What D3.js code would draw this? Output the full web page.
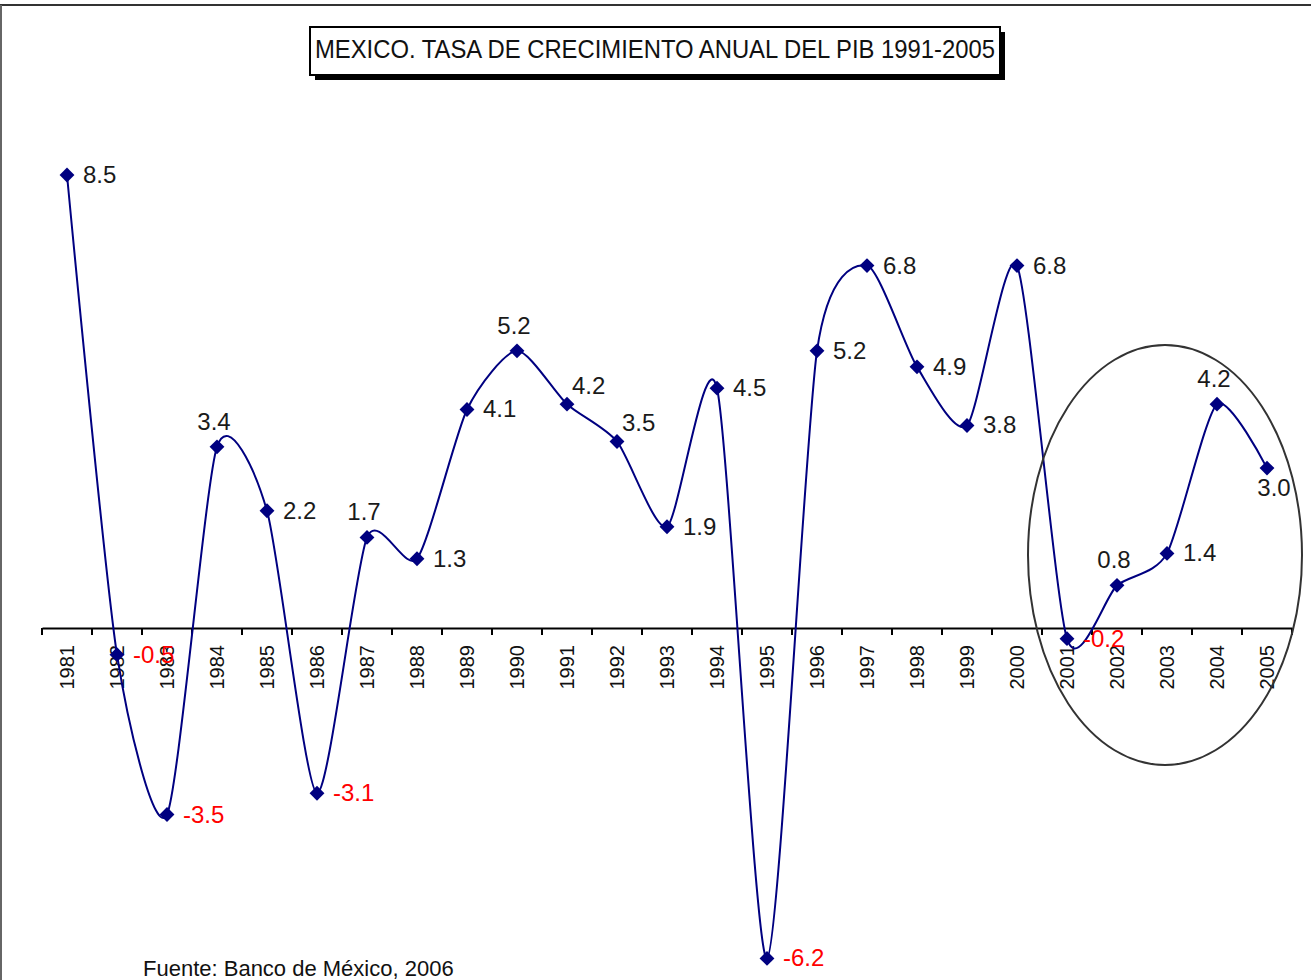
<!DOCTYPE html>
<html>
<head>
<meta charset="utf-8">
<script src="https://cdn.jsdelivr.net/npm/d3@7/dist/d3.min.js"></script>
<style>
  html, body { margin: 0; padding: 0; background: #fff; }
  svg { display: block; font-family: "Liberation Sans", Arial, sans-serif; }
</style>
</head>
<body>
<svg id="chart" width="1311" height="980"></svg>
<script>
// Annual GDP growth, Mexico
const years = ["1981","1982","1983","1984","1985","1986","1987","1988","1989","1990",
               "1991","1992","1993","1994","1995","1996","1997","1998","1999","2000",
               "2001","2002","2003","2004","2005"];
const growth = [8.5, -0.5, -3.5, 3.4, 2.2, -3.1, 1.7, 1.3, 4.1, 5.2,
                4.2, 3.5, 1.9, 4.5, -6.2, 5.2, 6.8, 4.9, 3.8, 6.8,
                -0.2, 0.8, 1.4, 4.2, 3.0];
// where each value label sits relative to its marker
const labelSide = ["r","r","r","t","r","r","t","r","r","t",
                   "tr","tr","r","r","r","r","r","r","r","r",
                   "r","t","r","t","b"];
const titleText = "MEXICO. TASA DE CRECIMIENTO ANUAL DEL PIB 1991-2005";
const sourceText = "Fuente: Banco de México, 2006";

const svg = d3.select("#chart");
const W = 1311, H = 980;

const x = d3.scaleBand().domain(years).range([42, 1292]).padding(0);
const y = d3.scaleLinear().domain([0, 8.5]).range([628, 175]);
const cx = d => x(d) + x.bandwidth() / 2;

const data = years.map((yr, i) => ({ yr, v: growth[i], side: labelSide[i] }));

// outer frame (top and left edges visible)
svg.append("line").attr("x1", 0).attr("x2", W).attr("y1", 5).attr("y2", 5)
  .attr("stroke", "#333").attr("stroke-width", 2);
svg.append("line").attr("x1", 1).attr("x2", 1).attr("y1", 5).attr("y2", H)
  .attr("stroke", "#666").attr("stroke-width", 2);

// title box with drop shadow
const tb = { x: 310, y: 27, w: 690, h: 48 };
svg.append("rect").attr("x", tb.x + 5).attr("y", tb.y + 5).attr("width", tb.w).attr("height", tb.h)
  .attr("fill", "#000");
svg.append("rect").attr("x", tb.x).attr("y", tb.y).attr("width", tb.w).attr("height", tb.h)
  .attr("fill", "#fff").attr("stroke", "#000").attr("stroke-width", 2);
svg.append("text").attr("x", tb.x + 5).attr("y", tb.y + 31)
  .attr("font-size", 22).attr("fill", "#111")
  .attr("textLength", 680).attr("lengthAdjust", "spacingAndGlyphs")
  .attr("transform", `translate(0,${-(tb.y + 31) * 0.15}) scale(1,1.15)`)
  .text(titleText);

// category axis at zero
const axisY = y(0);
const axis = svg.append("g").attr("transform", `translate(0,${axisY})`)
  .call(d3.axisBottom(x).tickSize(0).tickSizeOuter(0).tickFormat(""));
axis.select(".domain").attr("stroke", "#000").attr("stroke-width", 2);
const bounds = years.map(d => x(d)).concat([x.range()[1]]);
svg.append("g").selectAll("line").data(bounds).join("line")
  .attr("x1", d => d).attr("x2", d => d)
  .attr("y1", axisY).attr("y2", axisY + 7)
  .attr("stroke", "#000").attr("stroke-width", 2);

// rotated year labels
svg.append("g").selectAll("text").data(years).join("text")
  .attr("transform", d => `translate(${cx(d) + 7},${axisY + 17}) rotate(-90)`)
  .attr("text-anchor", "end")
  .attr("font-size", 20).attr("fill", "#111")
  .text(d => d);

// smoothed growth line
const line = d3.line().x(d => cx(d.yr)).y(d => y(d.v)).curve(d3.curveCardinal.tension(0.3));
svg.append("path").datum(data).attr("d", line)
  .attr("fill", "none").attr("stroke", "#000080").attr("stroke-width", 2);

// diamond markers
const diamond = d3.symbol().type(d3.symbolSquare).size(110);
svg.append("g").selectAll("path").data(data).join("path")
  .attr("d", diamond)
  .attr("transform", d => `translate(${cx(d.yr)},${y(d.v)}) rotate(45)`)
  .attr("fill", "#000080");

// value labels (plain hyphen for negatives)
const fmt = v => v.toFixed(1);
svg.append("g").selectAll("text").data(data).join("text")
  .attr("font-size", 24)
  .attr("fill", d => d.v < 0 ? "#ff0000" : "#1a1a1a")
  .attr("text-anchor", d => (d.side === "t" || d.side === "b") ? "middle" : "start")
  .attr("x", d => {
    const px = cx(d.yr);
    if (d.side === "t") return px - 3;
    if (d.side === "b") return px + 7;
    if (d.side === "tr") return px + 5;
    return px + 16;
  })
  .attr("y", d => {
    const py = y(d.v);
    if (d.side === "t") return py - 17;
    if (d.side === "b") return py + 28;
    if (d.side === "tr") return py - 10;
    return py + 8;
  })
  .text(d => fmt(d.v));

// highlight ellipse around recent years
svg.append("ellipse").attr("cx", 1165).attr("cy", 555).attr("rx", 137).attr("ry", 210)
  .attr("fill", "none").attr("stroke", "#333").attr("stroke-width", 2);

// source note
svg.append("text").attr("x", 143).attr("y", 976)
  .attr("font-size", 22).attr("fill", "#111")
  .text(sourceText);
</script>
</body>
</html>
